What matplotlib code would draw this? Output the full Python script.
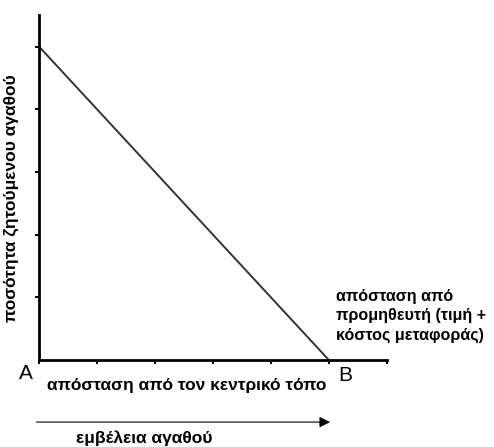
import numpy as np
import matplotlib.pyplot as plt

plt.rcParams['font.family'] = ['Liberation Sans', 'DejaVu Sans']

# demand line: quantity falls from 5 at A to 0 at B
distance = [0, 5]
quantity = [5, 0]
x_ticks = [0, 1, 2, 3, 4, 5, 6]
y_ticks = [1, 2, 3, 4, 5]

fig = plt.figure(figsize=(4.94, 4.47), dpi=100)
ax = fig.add_axes([0.079, 0.1946, 0.704, 0.7714])

ax.plot(distance, quantity, color='#333333', lw=1.4, solid_capstyle='butt')

ax.set_xlim(0, 6)
ax.set_ylim(0, 5.5)
ax.set_xticks(x_ticks)
ax.set_yticks(y_ticks)
ax.set_xticklabels([])
ax.set_yticklabels([])
ax.tick_params(direction='out', length=3, width=1.5, color='black')
for s in ['top', 'right']:
    ax.spines[s].set_visible(False)
for s in ['left', 'bottom']:
    ax.spines[s].set_linewidth(2)

ax.set_ylabel('ποσότητα ζητούμενου αγαθού', fontsize=12.5, fontweight='bold')
ax.yaxis.set_label_coords(-0.057, 0.47)

ax.text(-0.225, -0.21, 'A', fontsize=15, ha='center', va='center', clip_on=False)
ax.text(5.28, -0.24, 'B', fontsize=15, ha='center', va='center', clip_on=False)
ax.text(0.14, -0.40, 'απόσταση από τον κεντρικό τόπο', fontsize=12.5, fontweight='bold',
        ha='left', va='center', clip_on=False)
ax.text(5.12, 0.70, 'απόσταση από\nπρομηθευτή (τιμή +\nκόστος μεταφοράς)', fontsize=11.6,
        fontweight='bold', ha='left', va='center', linespacing=1.35, clip_on=False)

ax.annotate('', xy=(5.07, -0.99), xytext=(-0.09, -0.99), xycoords='data',
            arrowprops=dict(arrowstyle='-|>', color='#999999', lw=0.8,
                            mutation_scale=16, fc='black', ec='black'),
            annotation_clip=False)
ax.text(0.64, -1.25, 'εμβέλεια αγαθού', fontsize=12.5, fontweight='bold',
        ha='left', va='center', clip_on=False)

fig.savefig('out.png', dpi=100)
